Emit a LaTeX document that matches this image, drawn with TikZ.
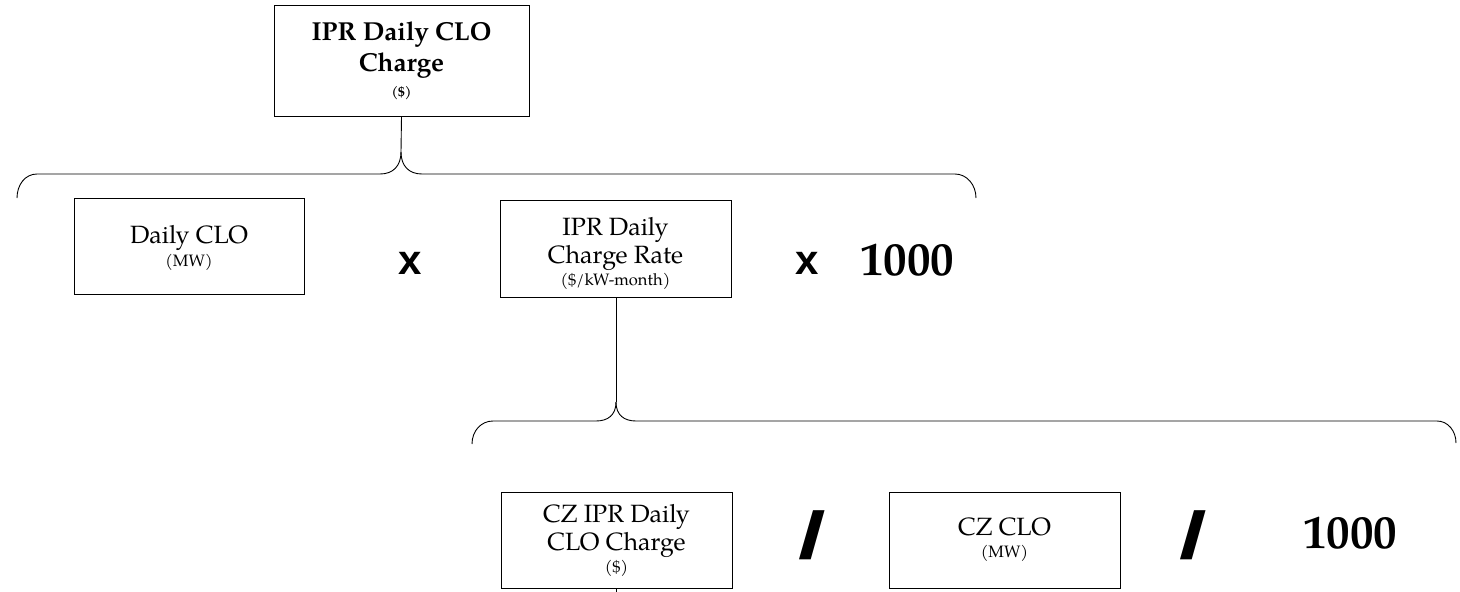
\documentclass[tikz,border=0pt]{standalone}
\usepackage{fontspec}
\setmainfont{TeX Gyre Pagella}
\newfontfamily\opfont{Liberation Sans}
\begin{document}
\begin{tikzpicture}[x=1pt,y=-1pt,
  box/.style={draw=black,line width=0.9pt,inner sep=0pt,align=center},
  conn/.style={draw=black,line width=0.9pt},
  op/.style={font=\opfont\bfseries\fontsize{42}{42}\selectfont,inner sep=0pt},
  slash/.style={font=\opfont\bfseries\fontsize{66}{66}\selectfont,inner sep=0pt},
  num/.style={font=\bfseries\fontsize{47}{47}\selectfont,inner sep=0pt}]
\useasboundingbox (0,0) rectangle (1460,592);
% boxes
\node[box,minimum width=255pt,minimum height=111pt,font=\bfseries\fontsize{26}{31}\selectfont] (top) at (401.5,60.5)
  {IPR Daily CLO\\ Charge\\[-6pt]{\fontsize{13.5}{15}\selectfont (\$)}};
\node[box,minimum width=230pt,minimum height=96pt,font=\fontsize{25}{23}\selectfont] (daily) at (189,246)
  {\rule{0pt}{22pt}Daily CLO\\{\fontsize{16.5}{18}\selectfont (MW)}};
\node[box,minimum width=231pt,minimum height=97pt,font=\fontsize{25}{28}\selectfont] (rate) at (615.5,248.5)
  {\rule{0pt}{28pt}IPR Daily\\ Charge Rate\\[-6pt]{\fontsize{16.5}{18}\selectfont (\$/kW-month)}};
\node[box,minimum width=231pt,minimum height=96pt,font=\fontsize{25}{28}\selectfont] (czipr) at (616.5,540)
  {CZ IPR Daily\\ CLO Charge\\[-6pt]{\fontsize{16.5}{18}\selectfont (\$)}};
\node[box,minimum width=231pt,minimum height=96pt,font=\fontsize{25}{22}\selectfont] (czclo) at (1004.5,540)
  {CZ CLO\\{\fontsize{16.5}{18}\selectfont (MW)}};
% operators
\node[op] (x1) at (410,263) {x};
\node[op] (x2) at (807,263) {x};
\node[num] (n1) at (907,260) {1000};
\node[slash] (s1) at (812,535) {\scalebox{1.5}[1]{/}};
\node[slash] (s2) at (1193,535) {\scalebox{1.5}[1]{/}};
\node[num] (n2) at (1350,533) {1000};
% brace 1
\coordinate (t1) at (401,152);
\draw[conn] (top.south) -- (t1);
\draw[conn] (t1) .. controls (401,166) and (393,174) .. (380,174) -- (37,174)
  .. controls (25,174) and (17,185) .. (17,198);
\draw[conn] (t1) .. controls (401,166) and (409,174) .. (422,174) -- (955,174)
  .. controls (967,174) and (976,185) .. (976,198);
% brace 2
\coordinate (t2) at (616,402);
\draw[conn] (rate.south -| t2) -- (t2);
\draw[conn] (t2) .. controls (616,415) and (608,421) .. (596,421) -- (493,421)
  .. controls (481,421) and (472,431) .. (472,444);
\draw[conn] (t2) .. controls (616,415) and (624,421) .. (636,421) -- (1437,421)
  .. controls (1448,421) and (1456,431) .. (1456,443);
% stub below CZ IPR box
\coordinate (e1) at (616,592);
\draw[conn] (czipr.south -| e1) -- (e1);
\end{tikzpicture}
\end{document}
